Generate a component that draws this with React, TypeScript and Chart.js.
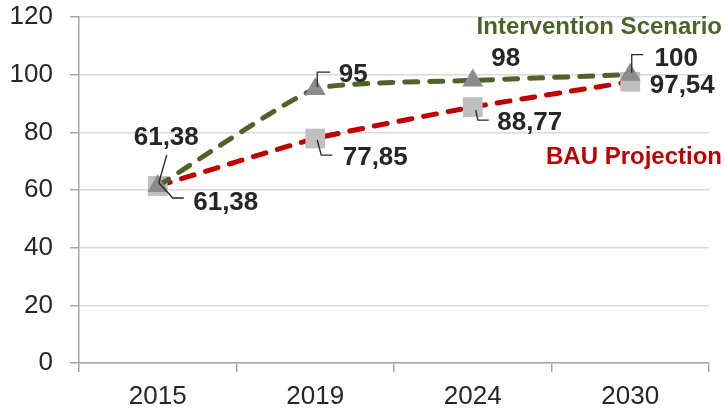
import React, { useEffect, useRef } from "react";
import { Chart, registerables } from "chart.js";

Chart.register(...registerables);

const categories = ["2015", "2019", "2024", "2030"];
const interventionValues = [61.38, 95, 98, 100];
const bauValues = [61.38, 77.85, 88.77, 97.54];
const yTickValues = [0, 20, 40, 60, 80, 100, 120];
const seriesNames = ["Intervention Scenario", "BAU Projection"];

const GREEN = "#4f6228";
const RED = "#c00000";
const TEXT = "#262626";
const FONT = "'Liberation Sans', Arial, sans-serif";

// label placement (text centre offset from point) and leader polylines, per dataset / point
const labelLayout: { dx: number; dy: number; leader?: number[][] }[][] = [
  [
    { dx: 8.5, dy: -50, leader: [[9, -31], [1, -3]] },
    { dx: 38, dy: -16, leader: [[2, -2], [2, -17], [15, -17]] },
    { dx: 33, dy: -24 },
    { dx: 46, dy: -18, leader: [[1.5, -2], [1.5, -20], [13, -20]] },
  ],
  [
    { dx: 68, dy: 14.5, leader: [[1.25, -3], [15, 12], [26, 12]] },
    { dx: 60, dy: 17.5, leader: [[2, 1.5], [6, 16.5], [17, 16.5]] },
    { dx: 57, dy: 14, leader: [[3, 3], [5, 13], [16, 13]] },
    { dx: 52, dy: 2 },
  ],
];

const fmt = (v: number) => String(v).replace(".", ",");

const labelPlugin = {
  id: "customLabels",
  afterDatasetsDraw(chart: any) {
    const ctx = chart.ctx as CanvasRenderingContext2D;
    const area = chart.chartArea;
    ctx.save();
    chart.data.datasets.forEach((ds: any, di: number) => {
      const meta = chart.getDatasetMeta(di);
      meta.data.forEach((pt: any, i: number) => {
        const lay = labelLayout[di][i];
        const px = pt.x;
        const py = pt.y;
        if (lay.leader) {
          ctx.beginPath();
          ctx.strokeStyle = TEXT;
          ctx.lineWidth = 1.3;
          lay.leader.forEach((p, k) => {
            if (k === 0) ctx.moveTo(px + p[0], py + p[1]);
            else ctx.lineTo(px + p[0], py + p[1]);
          });
          ctx.stroke();
        }
        ctx.font = `bold 26px ${FONT}`;
        ctx.fillStyle = TEXT;
        ctx.textAlign = "center";
        ctx.textBaseline = "alphabetic";
        ctx.fillText(fmt(ds.data[i]), px + lay.dx, py + lay.dy + 26 * 0.358);
      });
    });
    // series name labels
    ctx.font = `bold 24px ${FONT}`;
    ctx.textAlign = "right";
    ctx.textBaseline = "alphabetic";
    ctx.fillStyle = GREEN;
    ctx.fillText(seriesNames[0], area.right + 13, area.top + 8 + 24 * 0.358);
    ctx.fillStyle = RED;
    ctx.fillText(seriesNames[1], area.right + 13, area.top + 138 + 24 * 0.358);
    ctx.restore();
  },
};

export default function App() {
  const ref = useRef<HTMLCanvasElement | null>(null);
  useEffect(() => {
    if (!ref.current) return;
    const chart = new Chart(ref.current, {
      type: "line",
      data: {
        labels: categories,
        datasets: [
          {
            label: seriesNames[0],
            data: interventionValues,
            borderColor: GREEN,
            borderWidth: 5,
            borderDash: [13, 12],
            borderCapStyle: "round",
            tension: 0.15,
            pointStyle: "triangle",
            pointRadius: 12,
            pointBackgroundColor: "#8c8c8c",
            pointBorderColor: "#8c8c8c",
            pointBorderWidth: 0,
            fill: false,
          },
          {
            label: seriesNames[1],
            data: bauValues,
            borderColor: RED,
            borderWidth: 5,
            borderDash: [13, 12],
            borderCapStyle: "round",
            tension: 0.15,
            pointStyle: "rect",
            pointRadius: 14,
            pointBackgroundColor: "#bfbfbf",
            pointBorderColor: "#bfbfbf",
            pointBorderWidth: 0,
            fill: false,
          },
        ],
      },
      options: {
        responsive: false,
        animation: false,
        clip: false as any,
        layout: { padding: { top: 17, right: 16, left: 0, bottom: 0 } },
        plugins: { legend: { display: false }, tooltip: { enabled: false } },
        scales: {
          x: {
            type: "category",
            offset: true,
            grid: {
              offset: true,
              drawOnChartArea: false,
              drawTicks: true,
              tickLength: 9,
              color: "#a6a6a6",
              lineWidth: 1.5,
            },
            border: { color: "#a6a6a6", width: 1.5 },
            ticks: { font: { family: FONT, size: 26 }, color: TEXT, padding: 9 },
            afterFit: (s: any) => {
              s.height = 45;
              s.paddingLeft = 0;
              s.paddingRight = 0;
            },
          },
          y: {
            min: 0,
            max: 120,
            afterBuildTicks: (s: any) => {
              s.ticks = yTickValues.map((v) => ({ value: v }));
            },
            grid: {
              color: "#d9d9d9",
              lineWidth: 1.5,
              tickLength: 9,
              tickColor: "#a6a6a6",
            },
            border: { color: "#a6a6a6", width: 1.5 },
            ticks: { font: { family: FONT, size: 26 }, color: TEXT, padding: 17 },
            afterFit: (s: any) => {
              s.width = 79;
              s.paddingTop = 0;
              s.paddingBottom = 0;
            },
          },
        },
      },
      plugins: [labelPlugin],
    });
    return () => chart.destroy();
  }, []);
  return (
    <canvas
      ref={ref}
      width={725}
      height={408}
      style={{ position: "absolute", left: 0, top: 0, display: "block" }}
    />
  );
}
